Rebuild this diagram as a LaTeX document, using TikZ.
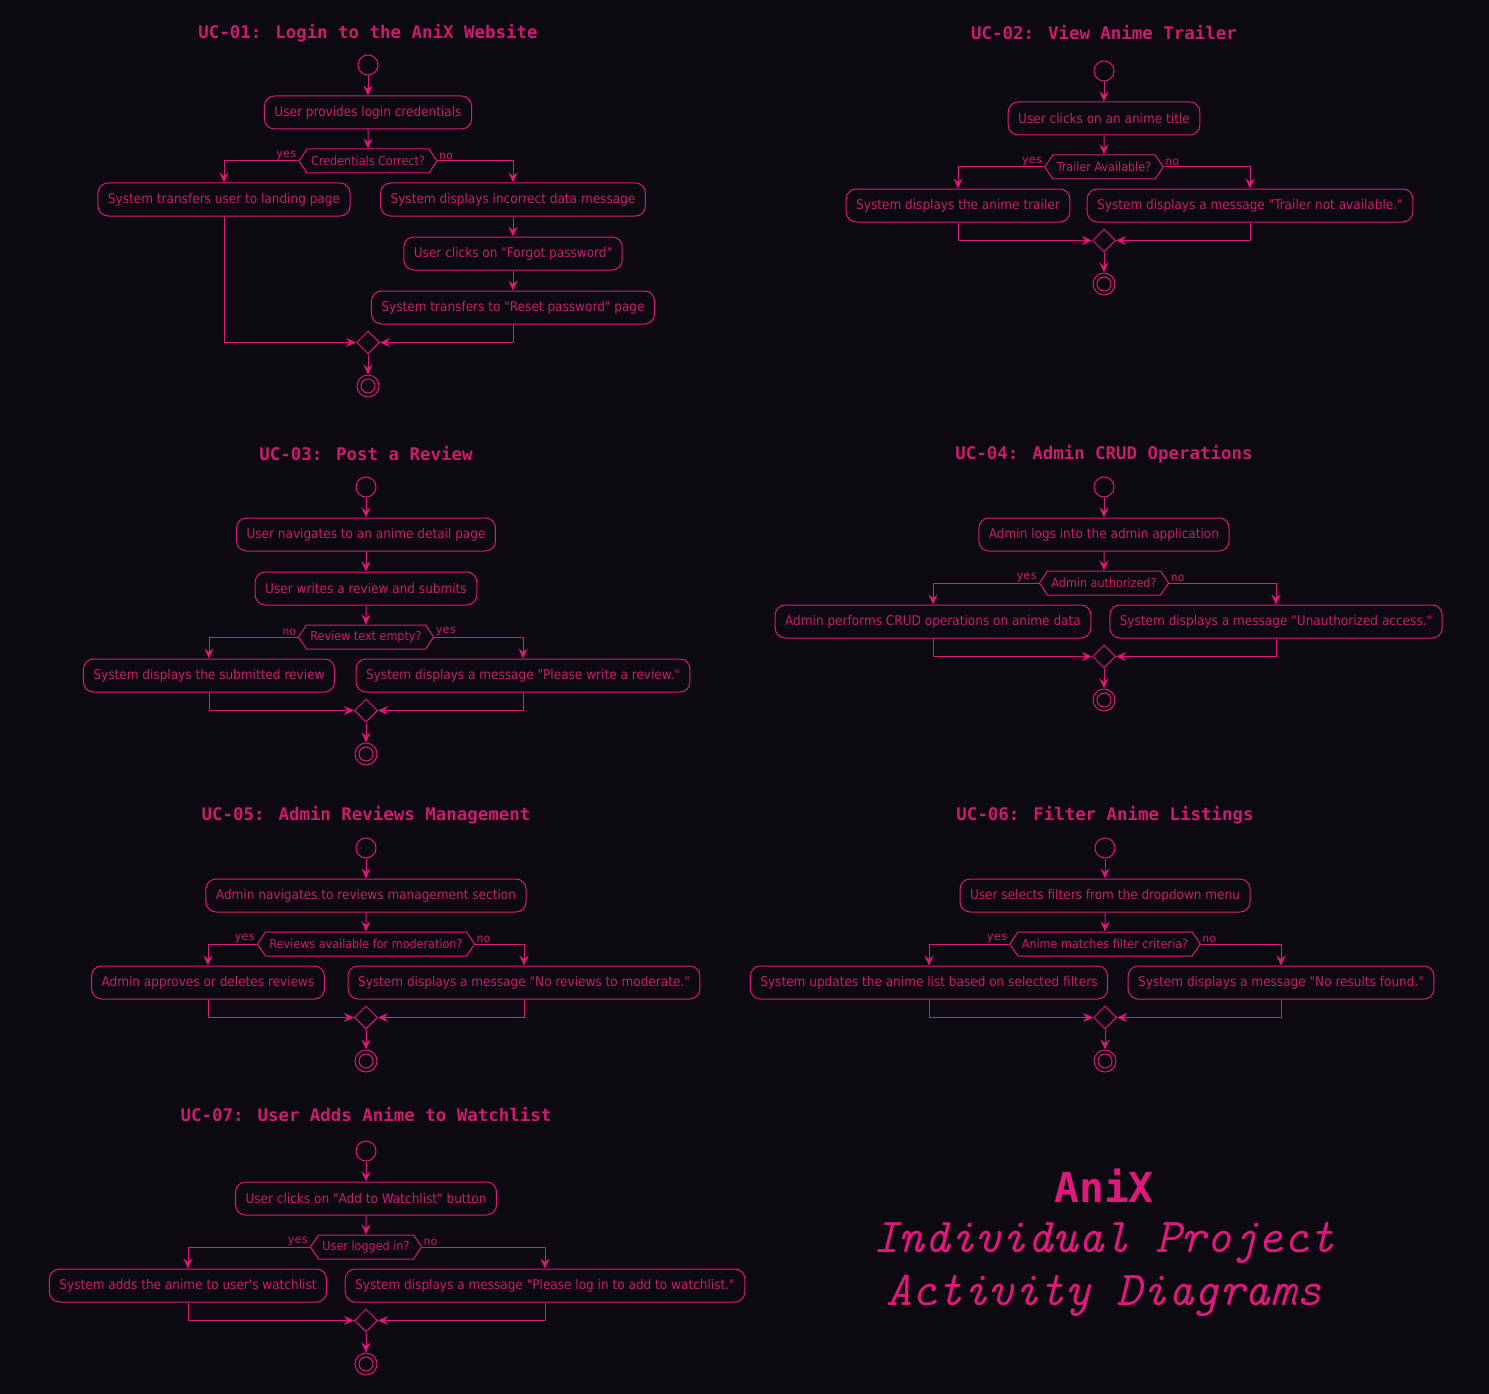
\documentclass[tikz,border=0pt]{standalone}
\usepackage{fontspec}
\setmainfont{DejaVu Sans Condensed}[Ligatures=TeXOff]
\newfontfamily\monofont{DejaVu Sans Mono}[Ligatures=TeXOff]
\usepackage{tikz}
\usetikzlibrary{shapes.geometric, shapes.symbols, arrows.meta, positioning, calc}
\usepackage{xcolor}
\definecolor{cBg}{RGB}{12,9,16}
\definecolor{cLine}{RGB}{222,24,125}
\definecolor{cText}{RGB}{200,30,110}
\definecolor{cTitle}{RGB}{205,28,112}
\tikzset{
  actbox/.style={rectangle, rounded corners=10bp, draw=cLine, text=cText,
                 font=\fontsize{13.5}{15}\selectfont, inner xsep=10bp,
                 inner ysep=0pt, minimum height=33bp},
  decbox/.style={signal, signal to=east and west, signal pointer angle=112,
                 draw=cLine, text=cText, font=\fontsize{12.5}{14}\selectfont,
                 inner xsep=4bp, inner ysep=0pt, minimum height=24bp},
  mergebox/.style={diamond, draw=cLine, minimum width=23bp,
                   minimum height=23bp, inner sep=0pt},
  startdot/.style={circle, draw=cLine, minimum size=20bp, inner sep=0pt},
  enddot/.style={circle, draw=cLine, minimum size=22bp, inner sep=0pt,
                 path picture={\draw[cLine] (path picture bounding box.center) circle (7bp);}},
  ucTitle/.style={text=cTitle, font=\monofont\bfseries\fontsize{17.5}{20}\selectfont},
  branchlbl/.style={text=cText, font=\monofont\fontsize{11.5}{13}\selectfont, inner sep=1bp},
  flow/.style={-{Stealth[length=10bp, width=9bp, inset=3.5bp]}, draw=cLine},
  bigname/.style={text=cLine, font=\monofont\bfseries\fontsize{41.5}{46}\selectfont},
  bigsub/.style={text=cLine, font=\ttfamily\itshape\fontsize{49}{54}\selectfont}
}

\begin{document}
\begin{tikzpicture}[x=1bp, y=-1bp, line width=1bp]

  \fill[cBg] (0,0) rectangle (1489,1394);
  \useasboundingbox (0,0) rectangle (1489,1394);

  % ── UC-01 ──
  \node[ucTitle] (t1) at (368,33) {UC-01: Login to the AniX Website};
  \node[startdot] (s1) at (368,65) {};
  \node[actbox, below=20bp of s1] (login) {User provides login credentials};
  \node[decbox, below=19bp of login,
        label={[branchlbl, anchor=south east]west:yes},
        label={[branchlbl, anchor=south west]east:no}] (cred) {Credentials Correct?};
  \node[actbox, below=9bp of cred, xshift=-144bp] (landing) {System transfers user to landing page};
  \node[actbox, below=9bp of cred, xshift=145bp] (wrongdata) {System displays incorrect data message};
  \node[actbox, below=20bp of wrongdata] (forgot) {User clicks on "Forgot password"};
  \node[actbox, below=20bp of forgot] (reset) {System transfers to "Reset password" page};
  \coordinate (c1) at (cred |- reset.south);
  \node[mergebox, below=6bp of c1] (m1) {};
  \node[enddot, below=20bp of m1] (e1) {};

  \draw[flow] (s1) -- (login);
  \draw[flow] (login) -- (cred);
  \draw[flow] (cred.west) -| (landing);
  \draw[flow] (cred.east) -| (wrongdata);
  \draw[flow] (wrongdata) -- (forgot);
  \draw[flow] (forgot) -- (reset);
  \draw[flow] (landing) |- (m1);
  \draw[flow] (reset) |- (m1);
  \draw[flow] (m1) -- (e1);

  % ── UC-02 ──
  \node[ucTitle] (t2) at (1104,33) {UC-02: View Anime Trailer};
  \node[startdot] (s2) at (1104,71) {};
  \node[actbox, below=20bp of s2] (clicktitle) {User clicks on an anime title};
  \node[decbox, below=19bp of clicktitle,
        label={[branchlbl, anchor=south east]west:yes},
        label={[branchlbl, anchor=south west]east:no}] (trailer) {Trailer Available?};
  \node[actbox, below=9bp of trailer, xshift=-146bp] (showtrailer) {System displays the anime trailer};
  \node[actbox, below=9bp of trailer, xshift=146bp] (notrailer) {System displays a message "Trailer not available."};
  \coordinate (c2) at (trailer |- notrailer.south);
  \node[mergebox, below=6bp of c2] (m2) {};
  \node[enddot, below=20bp of m2] (e2) {};

  \draw[flow] (s2) -- (clicktitle);
  \draw[flow] (clicktitle) -- (trailer);
  \draw[flow] (trailer.west) -| (showtrailer);
  \draw[flow] (trailer.east) -| (notrailer);
  \draw[flow] (showtrailer) |- (m2);
  \draw[flow] (notrailer) |- (m2);
  \draw[flow] (m2) -- (e2);

  % ── UC-03 ──
  \node[ucTitle] (t3) at (366,454) {UC-03: Post a Review};
  \node[startdot] (s3) at (366,487) {};
  \node[actbox, below=20bp of s3] (detail) {User navigates to an anime detail page};
  \node[actbox, below=20bp of detail] (write) {User writes a review and submits};
  \node[decbox, below=19bp of write,
        label={[branchlbl, anchor=south east]west:no},
        label={[branchlbl, anchor=south west]east:yes}] (empty) {Review text empty?};
  \node[actbox, below=9bp of empty, xshift=-157bp] (showreview) {System displays the submitted review};
  \node[actbox, below=9bp of empty, xshift=157bp] (pleasewrite) {System displays a message "Please write a review."};
  \coordinate (c3) at (empty |- pleasewrite.south);
  \node[mergebox, below=6bp of c3] (m3) {};
  \node[enddot, below=20bp of m3] (e3) {};

  \draw[flow] (s3) -- (detail);
  \draw[flow] (detail) -- (write);
  \draw[flow] (write) -- (empty);
  \draw[flow] (empty.west) -| (showreview);
  \draw[flow] (empty.east) -| (pleasewrite);
  \draw[flow] (showreview) |- (m3);
  \draw[flow] (pleasewrite) |- (m3);
  \draw[flow] (m3) -- (e3);

  % ── UC-04 ──
  \node[ucTitle] (t4) at (1104,454) {UC-04: Admin CRUD Operations};
  \node[startdot] (s4) at (1104,487) {};
  \node[actbox, below=20bp of s4] (adminlogin) {Admin logs into the admin application};
  \node[decbox, below=19bp of adminlogin,
        label={[branchlbl, anchor=south east]west:yes},
        label={[branchlbl, anchor=south west]east:no}] (authorized) {Admin authorized?};
  \node[actbox, below=9bp of authorized, xshift=-171bp] (crud) {Admin performs CRUD operations on anime data};
  \node[actbox, below=9bp of authorized, xshift=172bp] (unauth) {System displays a message "Unauthorized access."};
  \coordinate (c4) at (authorized |- unauth.south);
  \node[mergebox, below=6bp of c4] (m4) {};
  \node[enddot, below=20bp of m4] (e4) {};

  \draw[flow] (s4) -- (adminlogin);
  \draw[flow] (adminlogin) -- (authorized);
  \draw[flow] (authorized.west) -| (crud);
  \draw[flow] (authorized.east) -| (unauth);
  \draw[flow] (crud) |- (m4);
  \draw[flow] (unauth) |- (m4);
  \draw[flow] (m4) -- (e4);

  % ── UC-05 ──
  \node[ucTitle] (t5) at (366,815) {UC-05: Admin Reviews Management};
  \node[startdot] (s5) at (366,848) {};
  \node[actbox, below=20bp of s5] (revsection) {Admin navigates to reviews management section};
  \node[decbox, below=19bp of revsection,
        label={[branchlbl, anchor=south east]west:yes},
        label={[branchlbl, anchor=south west]east:no}] (moderation) {Reviews available for moderation?};
  \node[actbox, below=9bp of moderation, xshift=-158bp] (approve) {Admin approves or deletes reviews};
  \node[actbox, below=9bp of moderation, xshift=158bp] (noreviews) {System displays a message "No reviews to moderate."};
  \coordinate (c5) at (moderation |- noreviews.south);
  \node[mergebox, below=6bp of c5] (m5) {};
  \node[enddot, below=20bp of m5] (e5) {};

  \draw[flow] (s5) -- (revsection);
  \draw[flow] (revsection) -- (moderation);
  \draw[flow] (moderation.west) -| (approve);
  \draw[flow] (moderation.east) -| (noreviews);
  \draw[flow] (approve) |- (m5);
  \draw[flow] (noreviews) |- (m5);
  \draw[flow] (m5) -- (e5);

  % ── UC-06 ──
  \node[ucTitle] (t6) at (1105,815) {UC-06: Filter Anime Listings};
  \node[startdot] (s6) at (1105,848) {};
  \node[actbox, below=20bp of s6] (filters) {User selects filters from the dropdown menu};
  \node[decbox, below=19bp of filters,
        label={[branchlbl, anchor=south east]west:yes},
        label={[branchlbl, anchor=south west]east:no}] (matches) {Anime matches filter criteria?};
  \node[actbox, below=9bp of matches, xshift=-176bp] (updatelist) {System updates the anime list based on selected filters};
  \node[actbox, below=9bp of matches, xshift=176bp] (noresults) {System displays a message "No results found."};
  \coordinate (c6) at (matches |- noresults.south);
  \node[mergebox, below=6bp of c6] (m6) {};
  \node[enddot, below=20bp of m6] (e6) {};

  \draw[flow] (s6) -- (filters);
  \draw[flow] (filters) -- (matches);
  \draw[flow] (matches.west) -| (updatelist);
  \draw[flow] (matches.east) -| (noresults);
  \draw[flow] (updatelist) |- (m6);
  \draw[flow] (noresults) |- (m6);
  \draw[flow] (m6) -- (e6);

  % ── UC-07 ──
  \node[ucTitle] (t7) at (366,1115) {UC-07: User Adds Anime to Watchlist};
  \node[startdot] (s7) at (366,1151) {};
  \node[actbox, below=20bp of s7] (addbtn) {User clicks on "Add to Watchlist" button};
  \node[decbox, below=19bp of addbtn,
        label={[branchlbl, anchor=south east]west:yes},
        label={[branchlbl, anchor=south west]east:no}] (loggedin) {User logged in?};
  \node[actbox, below=9bp of loggedin, xshift=-178bp] (added) {System adds the anime to user's watchlist};
  \node[actbox, below=9bp of loggedin, xshift=179bp] (pleaselogin) {System displays a message "Please log in to add to watchlist."};
  \coordinate (c7) at (loggedin |- pleaselogin.south);
  \node[mergebox, below=6bp of c7] (m7) {};
  \node[enddot, below=20bp of m7] (e7) {};

  \draw[flow] (s7) -- (addbtn);
  \draw[flow] (addbtn) -- (loggedin);
  \draw[flow] (loggedin.west) -| (added);
  \draw[flow] (loggedin.east) -| (pleaselogin);
  \draw[flow] (added) |- (m7);
  \draw[flow] (pleaselogin) |- (m7);
  \draw[flow] (m7) -- (e7);

  % ── Project caption ──
  \node[bigname] (anix) at (1104,1186) {AniX};
  \node[bigsub] (project) at (1104,1243) {Individual Project};
  \node[bigsub] (activity) at (1104,1296) {Activity Diagrams};

\end{tikzpicture}
\end{document}
